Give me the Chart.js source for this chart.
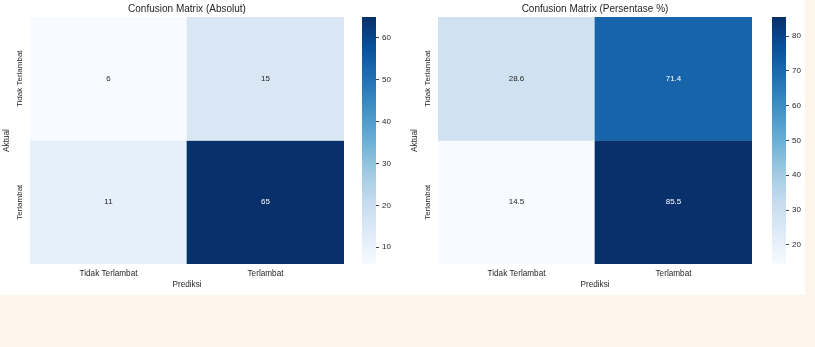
<!DOCTYPE html>
<html>
<head>
<meta charset="utf-8">
<script src="https://cdn.jsdelivr.net/npm/chart.js@4"></script>
<style>
  body { margin: 0; background: #fdf5e9; }
  #sheet { position: absolute; left: 0; top: 0; width: 805px; height: 295px; background: #fff; }
  .box { position: absolute; top: 0; height: 295px; }
</style>
</head>
<body>
<div id="sheet">
  <div class="box" style="left:0;width:350px"><canvas id="cmAbs"></canvas></div>
  <div class="box" style="left:362px;width:40px"><canvas id="cbAbs"></canvas></div>
  <div class="box" style="left:408px;width:350px"><canvas id="cmPct"></canvas></div>
  <div class="box" style="left:772px;width:40px"><canvas id="cbPct"></canvas></div>
</div>
<script>
const classLabels = ['Tidak Terlambat', 'Terlambat'];
const absCounts = [[6, 15], [11, 65]];
const pctValues = [[28.6, 71.4], [14.5, 85.5]];
const absTicks = [10, 20, 30, 40, 50, 60];
const pctTicks = [20, 30, 40, 50, 60, 70, 80];

const FONT = '"Liberation Sans", Arial, sans-serif';
const TEXT = '#262626';

// matplotlib "Blues" control points
const BLUES = [
  [247, 251, 255], [222, 235, 247], [198, 219, 239], [158, 202, 225], [107, 174, 214],
  [66, 146, 198], [33, 113, 181], [8, 81, 156], [8, 48, 107],
];

function blues(t) {
  t = Math.max(0, Math.min(1, t));
  const p = t * (BLUES.length - 1);
  const i = Math.min(Math.floor(p), BLUES.length - 2);
  const f = p - i;
  return BLUES[i].map((c, k) => Math.round(c + (BLUES[i + 1][k] - c) * f));
}

const rgb = c => `rgb(${c[0]},${c[1]},${c[2]})`;

function luminance(c) {
  const l = c.map(v => { v /= 255; return v <= 0.03928 ? v / 12.92 : Math.pow((v + 0.055) / 1.055, 2.4); });
  return 0.2126 * l[0] + 0.7152 * l[1] + 0.0722 * l[2];
}

// title, rotated row labels and cell annotations
const heatLabels = {
  id: 'heatLabels',
  afterDatasetsDraw(chart, args, opts) {
    const { ctx, chartArea, scales: { y } } = chart;
    ctx.save();
    ctx.textAlign = 'center';
    ctx.textBaseline = 'middle';

    ctx.font = `8px ${FONT}`;
    chart.data.datasets.forEach((ds, r) => {
      chart.getDatasetMeta(r).data.forEach((bar, c) => {
        const p = bar.getProps(['x', 'y', 'base'], true);
        ctx.fillStyle = luminance(ds.cellRgb[c]) > 0.408 ? TEXT : '#ffffff';
        ctx.fillText(opts.format(ds.values[c]), p.x, (p.y + p.base) / 2);
      });
    });

    ctx.fillStyle = TEXT;
    opts.rows.forEach((label, r) => {
      ctx.save();
      ctx.translate(chartArea.left - 10.5, y.getPixelForValue(r + 0.5));
      ctx.rotate(-Math.PI / 2);
      ctx.fillText(label, 0, 0);
      ctx.restore();
    });

    ctx.font = `10px ${FONT}`;
    ctx.fillText(opts.title, (chartArea.left + chartArea.right) / 2, 9);
    ctx.restore();
  },
};

function heatmap(id, title, matrix, format) {
  const flat = matrix.flat();
  const lo = Math.min(...flat), hi = Math.max(...flat);
  const datasets = matrix.map((row, r) => {
    const cellRgb = row.map(v => blues((v - lo) / (hi - lo)));
    return {
      data: row.map(() => [r, r + 1]),
      values: row,
      cellRgb,
      backgroundColor: cellRgb.map(rgb),
      borderWidth: 0,
      grouped: false,
      barPercentage: 1,
      categoryPercentage: 1,
    };
  });

  new Chart(document.getElementById(id), {
    type: 'bar',
    data: { labels: classLabels, datasets },
    plugins: [heatLabels],
    options: {
      responsive: true,
      maintainAspectRatio: false,
      animation: false,
      layout: { padding: { top: 17, right: 6 } },
      plugins: {
        legend: { display: false },
        tooltip: { enabled: false },
        heatLabels: { title, rows: classLabels, format },
      },
      scales: {
        x: {
          grid: { display: false, drawTicks: false },
          border: { display: false },
          ticks: { color: TEXT, font: { family: FONT, size: 8.2 }, padding: 5 },
          title: { display: true, text: 'Prediksi', color: TEXT, font: { family: FONT, size: 8.2 }, padding: { top: 0, bottom: 5 } },
          afterFit: s => { s.height = 31; },
        },
        y: {
          min: 0,
          max: matrix.length,
          reverse: true,
          grid: { display: false, drawTicks: false },
          border: { display: false },
          ticks: { display: false },
          title: { display: true, text: 'Aktual', color: TEXT, font: { family: FONT, size: 8.2 }, padding: { top: 2, bottom: 0 } },
          afterFit: s => { s.width = 30; },
        },
      },
    },
  });
  return [lo, hi];
}

function colorbar(id, lo, hi, ticks) {
  new Chart(document.getElementById(id), {
    type: 'bar',
    data: {
      labels: [''],
      datasets: [{
        data: [[lo, hi]],
        barPercentage: 1,
        categoryPercentage: 1,
        backgroundColor: c => {
          const area = c.chart.chartArea;
          if (!area) return rgb(BLUES[4]);
          const g = c.chart.ctx.createLinearGradient(0, area.bottom, 0, area.top);
          BLUES.forEach((col, i) => g.addColorStop(i / (BLUES.length - 1), rgb(col)));
          return g;
        },
      }],
    },
    options: {
      responsive: true,
      maintainAspectRatio: false,
      animation: false,
      layout: { padding: { top: 17, bottom: 31 } },
      plugins: { legend: { display: false }, tooltip: { enabled: false } },
      scales: {
        x: { display: false },
        y: {
          position: 'right',
          min: lo,
          max: hi,
          afterBuildTicks: s => { s.ticks = ticks.map(v => ({ value: v })); },
          grid: { drawOnChartArea: false, tickLength: 3, color: '#444' },
          border: { display: false },
          ticks: { color: TEXT, font: { family: FONT, size: 8 }, padding: 3 },
          afterFit: s => { s.width = 26; },
        },
      },
    },
  });
}

const absRange = heatmap('cmAbs', 'Confusion Matrix (Absolut)', absCounts, v => String(v));
colorbar('cbAbs', absRange[0], absRange[1], absTicks);

const pctRange = heatmap('cmPct', 'Confusion Matrix (Persentase %)', pctValues, v => v.toFixed(1));
colorbar('cbPct', pctRange[0], pctRange[1], pctTicks);
</script>
</body>
</html>
